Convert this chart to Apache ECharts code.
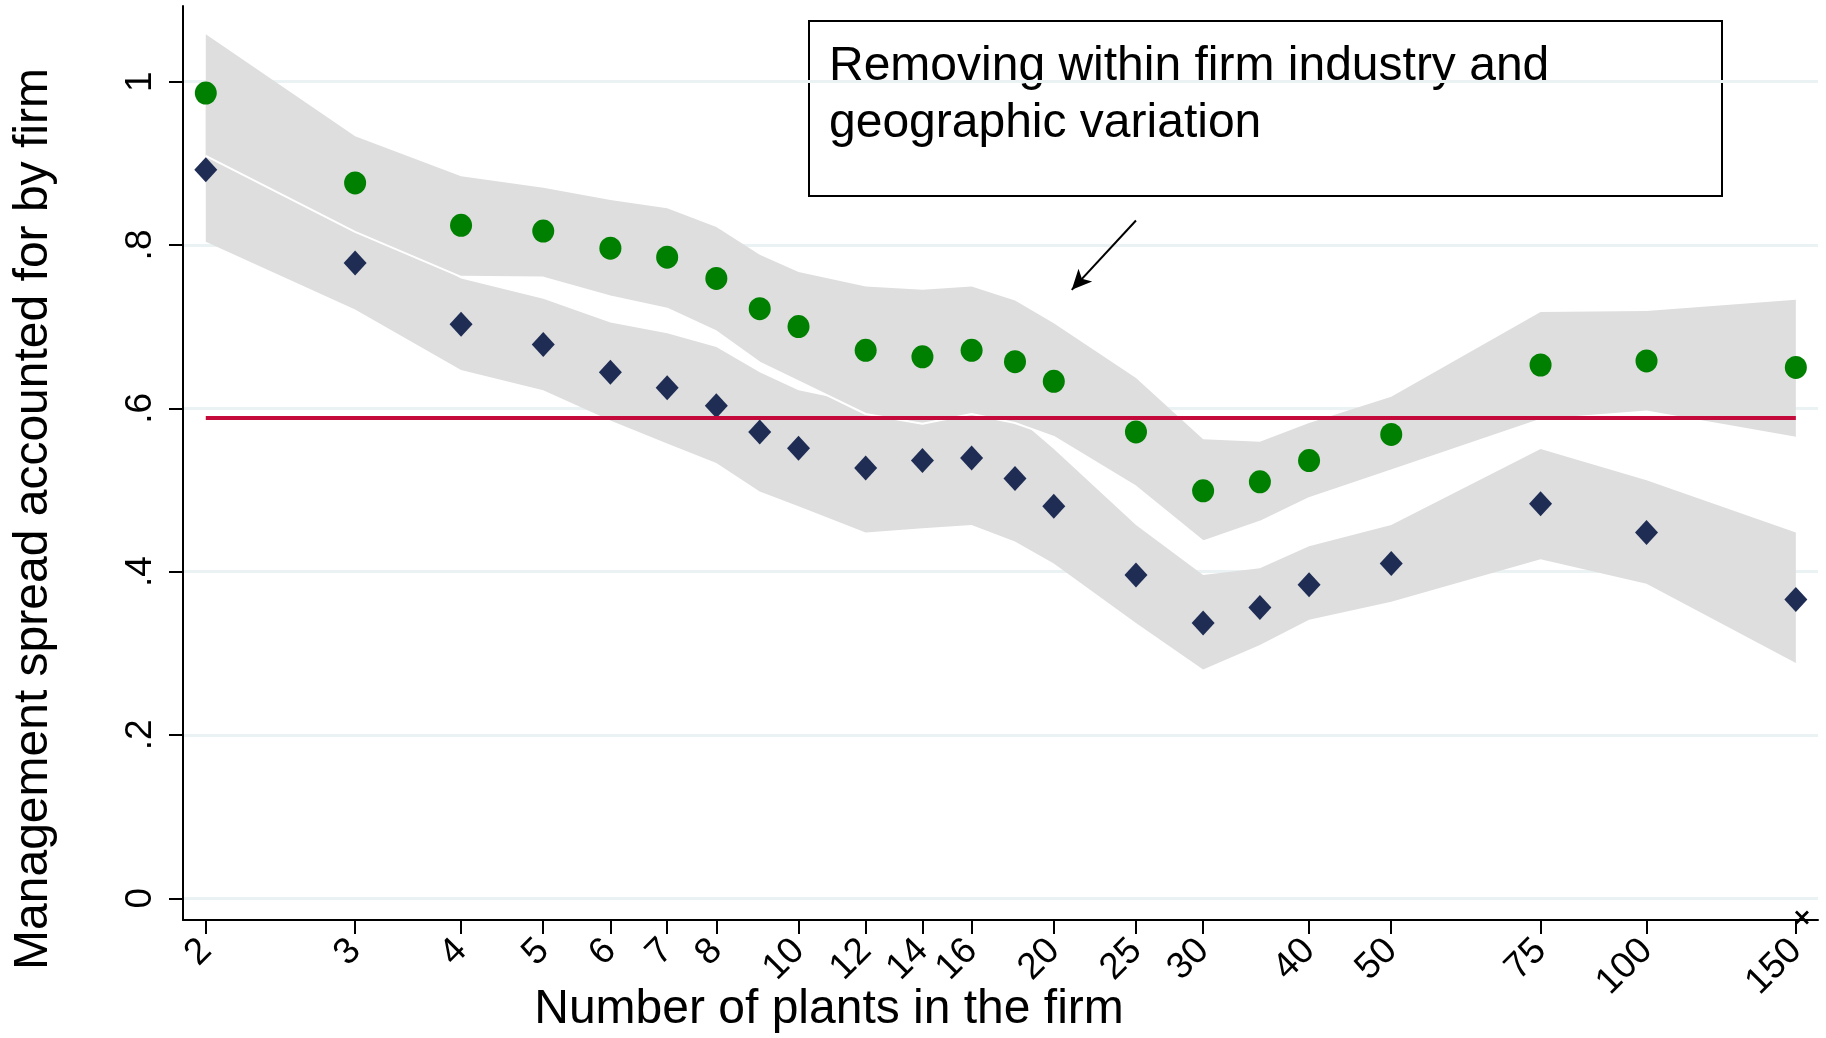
<!DOCTYPE html>
<html>
<head>
<meta charset="utf-8">
<title>Management spread accounted for by firm</title>
<script src="https://cdn.jsdelivr.net/npm/echarts@6/dist/echarts.min.js"></script>
<style>
  html, body { margin: 0; padding: 0; background: #fff; }
  #chart { width: 1826px; height: 1038px; }
</style>
</head>
<body>
<div id="chart"></div>
<script>
// Number of plants in the firm (log-scaled x positions)
const plants = [2, 3, 4, 5, 6, 7, 8, 9, 10, 12, 14, 16, 18, 20, 25, 30, 35, 40, 50, 75, 100, 150];

// Share of management spread accounted for by firm, with 95% bands
const removingVariation = [0.986, 0.876, 0.824, 0.817, 0.796, 0.785, 0.759, 0.722, 0.700, 0.671, 0.663,
                           0.671, 0.657, 0.633, 0.571, 0.499, 0.510, 0.536, 0.568, 0.653, 0.658, 0.650];
const removingHi = [1.058, 0.933, 0.884, 0.870, 0.855, 0.845, 0.822, 0.788, 0.767, 0.749, 0.745,
                    0.749, 0.732, 0.704, 0.637, 0.562, 0.559, 0.582, 0.614, 0.718, 0.719, 0.733];
const removingLo = [0.909, 0.816, 0.761, 0.760, 0.737, 0.722, 0.694, 0.656, 0.633, 0.593, 0.581,
                    0.593, 0.582, 0.565, 0.504, 0.437, 0.461, 0.490, 0.524, 0.586, 0.596, 0.564];

const baseline = [0.892, 0.778, 0.703, 0.678, 0.644, 0.625, 0.603, 0.571, 0.551, 0.527, 0.536,
                  0.539, 0.514, 0.480, 0.396, 0.337, 0.356, 0.384, 0.410, 0.483, 0.448, 0.366];
const baselineHi = [0.980, 0.834, 0.759, 0.734, 0.705, 0.692, 0.675, 0.644, 0.622, 0.605, 0.618,
                    0.621, 0.591, 0.550, 0.457, 0.396, 0.404, 0.431, 0.457, 0.550, 0.512, 0.448];
const baselineLo = [0.804, 0.721, 0.647, 0.622, 0.585, 0.557, 0.533, 0.498, 0.480, 0.448, 0.453,
                    0.457, 0.437, 0.410, 0.337, 0.280, 0.310, 0.341, 0.363, 0.415, 0.385, 0.288];

// Reference level
const referenceLevel = 0.588;

// Axis ticks
const xTickValues = [2, 3, 4, 5, 6, 7, 8, 10, 12, 14, 16, 20, 25, 30, 40, 50, 75, 100, 150];
const xTickLabels = ['2', '3', '4', '5', '6', '7', '8', '10', '12', '14', '16', '20', '25', '30', '40', '50', '75', '100', '150'];
const yTickValues = [0, 0.2, 0.4, 0.6, 0.8, 1];
const yTickLabels = ['0', '.2', '.4', '.6', '.8', '1'];

// Axis ranges
const xRange = [1.88, 159.3];
const yRange = [-0.0266, 1.0926];

// Annotation arrow (data coordinates) and end-of-axis marker
const arrowFrom = [25, 0.83];
const arrowTo = [21, 0.745];
const axisEndMark = [[152.5, -0.0236]];

const FONT = 'Liberation Sans, Arial, sans-serif';
const BAND_GRAY = '#dedede';

function labelFor(values, labels) {
  return function (v) {
    for (let i = 0; i < values.length; i++) {
      if (Math.abs(values[i] - v) < 1e-6 * Math.max(1, Math.abs(v))) return labels[i];
    }
    return '';
  };
}

function bandSeries(name, lo, hi) {
  return {
    type: 'custom',
    name: name,
    silent: true,
    clip: true,
    data: plants.map((x, i) => [x, lo[i], hi[i]]),
    encode: { x: 0, y: [1, 2] },
    renderItem: function (params, api) {
      if (params.dataIndex !== 0) return;
      const pts = [];
      for (let i = 0; i < plants.length; i++) pts.push(api.coord([plants[i], hi[i]]));
      for (let i = plants.length - 1; i >= 0; i--) pts.push(api.coord([plants[i], lo[i]]));
      return { type: 'polygon', shape: { points: pts }, style: { fill: BAND_GRAY } };
    }
  };
}

const chart = echarts.init(document.getElementById('chart'), null, { renderer: 'canvas' });

chart.setOption({
  animation: false,
  backgroundColor: '#fff',
  textStyle: { fontFamily: FONT },
  grid: { left: 183, right: 8, top: 6, bottom: 118 },
  xAxis: {
    type: 'log',
    logBase: 10,
    min: xRange[0],
    max: xRange[1],
    axisLine: { show: true, onZero: false, lineStyle: { color: '#000', width: 2 } },
    axisTick: { show: true, customValues: xTickValues, length: 14, lineStyle: { color: '#000', width: 2 } },
    axisLabel: {
      show: true, customValues: xTickValues, rotate: 45, margin: 25,
      fontSize: 37, color: '#000', fontFamily: FONT,
      formatter: labelFor(xTickValues, xTickLabels)
    },
    splitLine: { show: false },
    minorTick: { show: false },
    minorSplitLine: { show: false }
  },
  yAxis: {
    type: 'value',
    min: yRange[0],
    max: yRange[1],
    axisLine: { show: true, onZero: false, lineStyle: { color: '#000', width: 2 } },
    axisTick: { show: true, customValues: yTickValues, length: 14, lineStyle: { color: '#000', width: 2 } },
    axisLabel: {
      show: true, customValues: yTickValues, rotate: 90, margin: 24,
      fontSize: 37, color: '#000', fontFamily: FONT,
      formatter: labelFor(yTickValues, yTickLabels)
    },
    splitLine: { show: true, lineStyle: { color: '#eaf2f3', width: 3 } }
  },
  series: [
    bandSeries('Baseline band', baselineLo, baselineHi),
    bandSeries('Removing band', removingLo, removingHi),
    {
      type: 'line',
      name: 'Removing band edge',
      silent: true,
      symbol: 'none',
      data: plants.map((x, i) => [x, removingLo[i]]),
      lineStyle: { color: '#ffffff', width: 2 }
    },
    {
      type: 'line',
      name: 'Reference',
      silent: true,
      symbol: 'none',
      data: [[plants[0], referenceLevel], [plants[plants.length - 1], referenceLevel]],
      lineStyle: { color: '#c30a3a', width: 4 },
      markLine: {
        silent: true,
        symbol: ['none', 'arrow'],
        symbolSize: [14, 20],
        label: { show: false },
        lineStyle: { color: '#000', width: 2, type: 'solid' },
        data: [[{ coord: arrowFrom }, { coord: arrowTo }]]
      }
    },
    {
      type: 'scatter',
      name: 'Baseline',
      symbol: 'diamond',
      symbolSize: [23, 25],
      itemStyle: { color: '#1f2d55', opacity: 1 },
      data: plants.map((x, i) => [x, baseline[i]])
    },
    {
      type: 'scatter',
      name: 'Removing within firm industry and geographic variation',
      symbol: 'circle',
      symbolSize: [22, 23],
      itemStyle: { color: '#008000', opacity: 1 },
      data: plants.map((x, i) => [x, removingVariation[i]])
    },
    {
      type: 'scatter',
      name: 'Axis end',
      silent: true,
      symbol: 'path://M0,1.4L1.4,0L5,3.6L8.6,0L10,1.4L6.4,5L10,8.6L8.6,10L5,6.4L1.4,10L0,8.6L3.6,5Z',
      symbolSize: 14,
      itemStyle: { color: '#000', opacity: 1 },
      data: axisEndMark
    }
  ],
  graphic: [
    {
      type: 'text',
      x: 34, y: 519,
      rotation: Math.PI / 2,
      silent: true,
      style: {
        text: 'Management spread accounted for by firm',
        fontSize: 48, fontFamily: FONT, fill: '#000',
        align: 'center', verticalAlign: 'middle'
      }
    },
    {
      type: 'text',
      x: 829, y: 1010,
      silent: true,
      style: {
        text: 'Number of plants in the firm',
        fontSize: 48, fontFamily: FONT, fill: '#000',
        align: 'center', verticalAlign: 'middle'
      }
    },
    {
      type: 'rect',
      silent: true,
      shape: { x: 809, y: 21, width: 913, height: 175 },
      style: { fill: 'none', stroke: '#000', lineWidth: 2 }
    },
    {
      type: 'text',
      x: 829, y: 38,
      silent: true,
      style: {
        text: 'Removing within firm industry and\ngeographic variation',
        fontSize: 48, fontFamily: FONT, fill: '#000', lineHeight: 57,
        align: 'left', verticalAlign: 'top'
      }
    }
  ]
});
</script>
</body>
</html>
